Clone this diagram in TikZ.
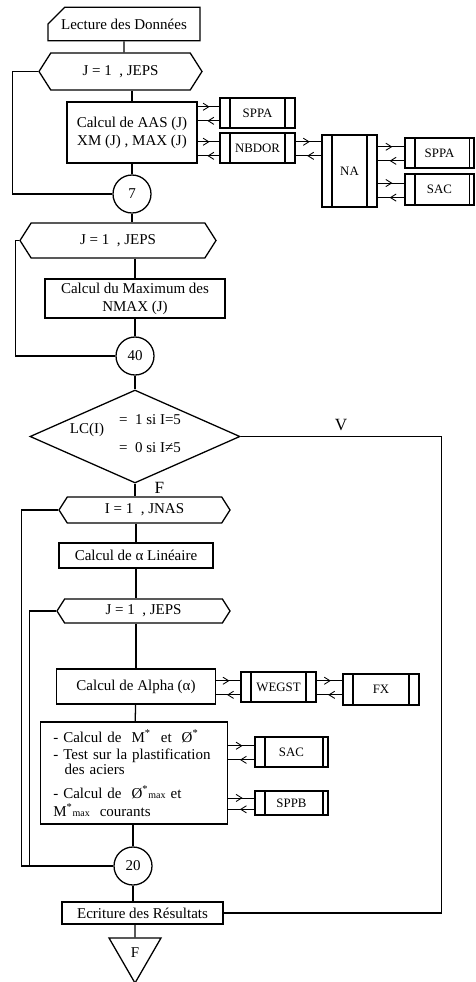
\documentclass[tikz,border=0pt]{standalone}
\usepackage{fontspec}
\setmainfont{Liberation Serif}
\usetikzlibrary{shapes.geometric, shapes.misc, shapes.symbols, arrows.meta, decorations.markings, calc}

% a pair of call arrows: caller, callee, box giving the rows
\newcommand\callpair[3]{%
  \coordinate (#1#2i) at ($(#3.north west)!.3!(#3.south west)$);
  \coordinate (#1#2o) at ($(#3.north west)!.75!(#3.south west)$);
  \draw[call] (#1.east |- #1#2i) -- (#2.west |- #1#2i);
  \draw[call] (#2.west |- #1#2o) -- (#1.east |- #1#2o);
}

\tikzset{
  subprog/.style={draw, minimum width=52.5pt, minimum height=21pt, font=\small,
    path picture={
      \draw ([xshift=7pt]path picture bounding box.north west) -- ([xshift=7pt]path picture bounding box.south west);
      \draw ([xshift=-#1]path picture bounding box.north east) -- ([xshift=-#1]path picture bounding box.south east);}},
  subprog/.default=7pt,
  call/.style={line width=.6pt, postaction={decorate},
    decoration={markings, mark=at position .55 with {\arrow{Straight Barb[length=4pt,width=5pt]}}}},
}

\begin{document}
\begin{tikzpicture}[x=0.7pt, y=-0.7pt, line width=.9pt, font=\fontsize{10.5}{12.5}\selectfont,
    box/.style={draw, rectangle, align=center, inner sep=2pt},
    loophex/.style={draw, signal, signal to=west and east, signal pointer angle=115, inner sep=2pt},
    conn/.style={draw, circle, minimum size=26.6pt, inner sep=0pt}]
    \useasboundingbox (0,0) rectangle (475,982);

    % Draw nodes
    \node[box, chamfered rectangle, chamfered rectangle corners=north west, chamfered rectangle xsep=6pt, chamfered rectangle ysep=6pt, minimum width=106.4pt, minimum height=22.4pt] (lect) at (124,24) {Lecture des Données};
    \node[loophex, minimum width=114.1pt, minimum height=25.9pt] (hexa) at (120.5,71.5) {J = 1 \ , JEPS};
    \node[box, minimum width=91pt, minimum height=42.7pt] (aas) at (132,132.5) {Calcul de AAS (J)\\XM (J) , MAX (J)};
    \node[subprog] (sppa1) at (257.5,113) {SPPA};
    \node[subprog] (nbdor) at (257.5,148) {NBDOR};
    \node[subprog, minimum width=38.5pt, minimum height=50.4pt] (na) at (349.5,171) {NA};
    \node[subprog=3pt, minimum width=48.3pt] (sppa2) at (439.5,153) {SPPA};
    \node[subprog=3pt, minimum width=48.3pt, minimum height=21.7pt] (sac2) at (439.5,189.5) {SAC};
    \node[conn] (c7) at (132,194) {7};
    \node[loophex, minimum width=137.2pt, minimum height=24.5pt] (hexb) at (118,240.5) {J = 1 \ , JEPS};
    \node[box, minimum width=126pt, minimum height=27.3pt] (nmax) at (135,298.5) {Calcul du Maximum des\\NMAX (J)};
    \node[conn] (c40) at (135,356) {40};
    \node[draw, diamond, minimum width=147pt, minimum height=65.1pt, inner sep=0pt] (lc) at (135,436.5) {};
    \node (lctxt) at (87,430) {LC(I)};
    \node (lcone) at (150,420) {= \ 1 si I=5};
    \node (lczero) at (150,448) {= \ 0 si I≠5};
    \node[loophex, minimum width=119.7pt, minimum height=18.2pt] (hexc) at (144.5,510) {I = 1 \ , JNAS};
    \node[box, minimum width=107.8pt, minimum height=17.5pt] (alin) at (136,555.5) {Calcul de α Linéaire};
    \node[loophex, minimum width=121.1pt, minimum height=16.8pt] (hexd) at (143.5,611) {J = 1 \ , JEPS};
    \node[box, minimum width=111.3pt, minimum height=24.5pt] (alpha) at (136,686.5) {Calcul de Alpha (α)};
    \node[subprog] (wegst) at (278.5,687) {WEGST};
    \node[subprog, minimum width=53.2pt, minimum height=21.7pt] (fx) at (381,689.5) {FX};
    \node[box, align=left, text width=113pt, minimum width=130.9pt, minimum height=71.4pt] (mstar) at (134,773) {%
      - Calcul de \ M\textsuperscript{*} \ et \ Ø\textsuperscript{*}\\
      - Test sur la plastification\\[-2pt]
      \hspace*{8pt}des aciers\\[4pt]
      - Calcul de \ Ø\textsuperscript{*}{\scriptsize max} et\\
      M\textsuperscript{*}{\scriptsize max} \ courants};
    \node[subprog=3.5pt, minimum width=51.1pt] (sac) at (291.5,752) {SAC};
    \node[subprog=3.5pt, minimum width=51.1pt, minimum height=16.8pt] (sppb) at (291.5,803) {SPPB};
    \node[conn] (c20) at (133,866) {20};
    \node[box, minimum width=112.7pt, minimum height=15.4pt] (ecr) at (142.5,913) {Ecriture des Résultats};
    \node[draw, regular polygon, regular polygon sides=3, shape border rotate=180, minimum size=42pt, inner sep=0pt] (fin) at (135,953) {F};

    % Draw connections
    \draw (lect) -- (lect |- hexa.north);
    \draw (aas.north |- hexa.south) -- (aas);
    \draw (aas) -- (c7);
    \draw (c7) -- (c7 |- hexb.north);
    \draw (nmax.north |- hexb.south) -- (nmax);
    \draw (nmax) -- (c40);
    \draw (c40) -- (lc);
    \draw (lc.south) -- (lc.south |- hexc.north) node[pos=.3, right=10pt, font=\large] {F};
    \draw (alin.north |- hexc.south) -- (alin);
    \draw (alin) -- (alin |- hexd.north);
    \draw (alpha.north |- hexd.south) -- (alpha);
    \draw (alpha) -- (mstar);
    \draw (c20 |- mstar.south) -- (c20);
    \draw (c20) -- (c20 |- ecr.north);
    \draw (fin |- ecr.south) -- (fin);

    % Draw loops
    \draw (hexa.west) -- ++(-26,0) |- (c7);
    \draw (hexb.west) -- ++(-4,0) |- (c40);
    \draw (hexc.west) -- ++(-37,0) |- (c20);
    \draw (hexd.west) -- ++(-27,0) |- (c20);
    \draw (lc.east) -- ++(201,0) node[midway, above, font=\large] {V} |- (ecr.east);

    % Draw calls
    \callpair{aas}{sppa1}{sppa1}
    \callpair{aas}{nbdor}{nbdor}
    \callpair{nbdor}{na}{nbdor}
    \callpair{na}{sppa2}{sppa2}
    \callpair{na}{sac2}{sac2}
    \callpair{alpha}{wegst}{wegst}
    \callpair{wegst}{fx}{wegst}
    \callpair{mstar}{sac}{sac}
    \callpair{mstar}{sppb}{sppb}
\end{tikzpicture}
\end{document}
